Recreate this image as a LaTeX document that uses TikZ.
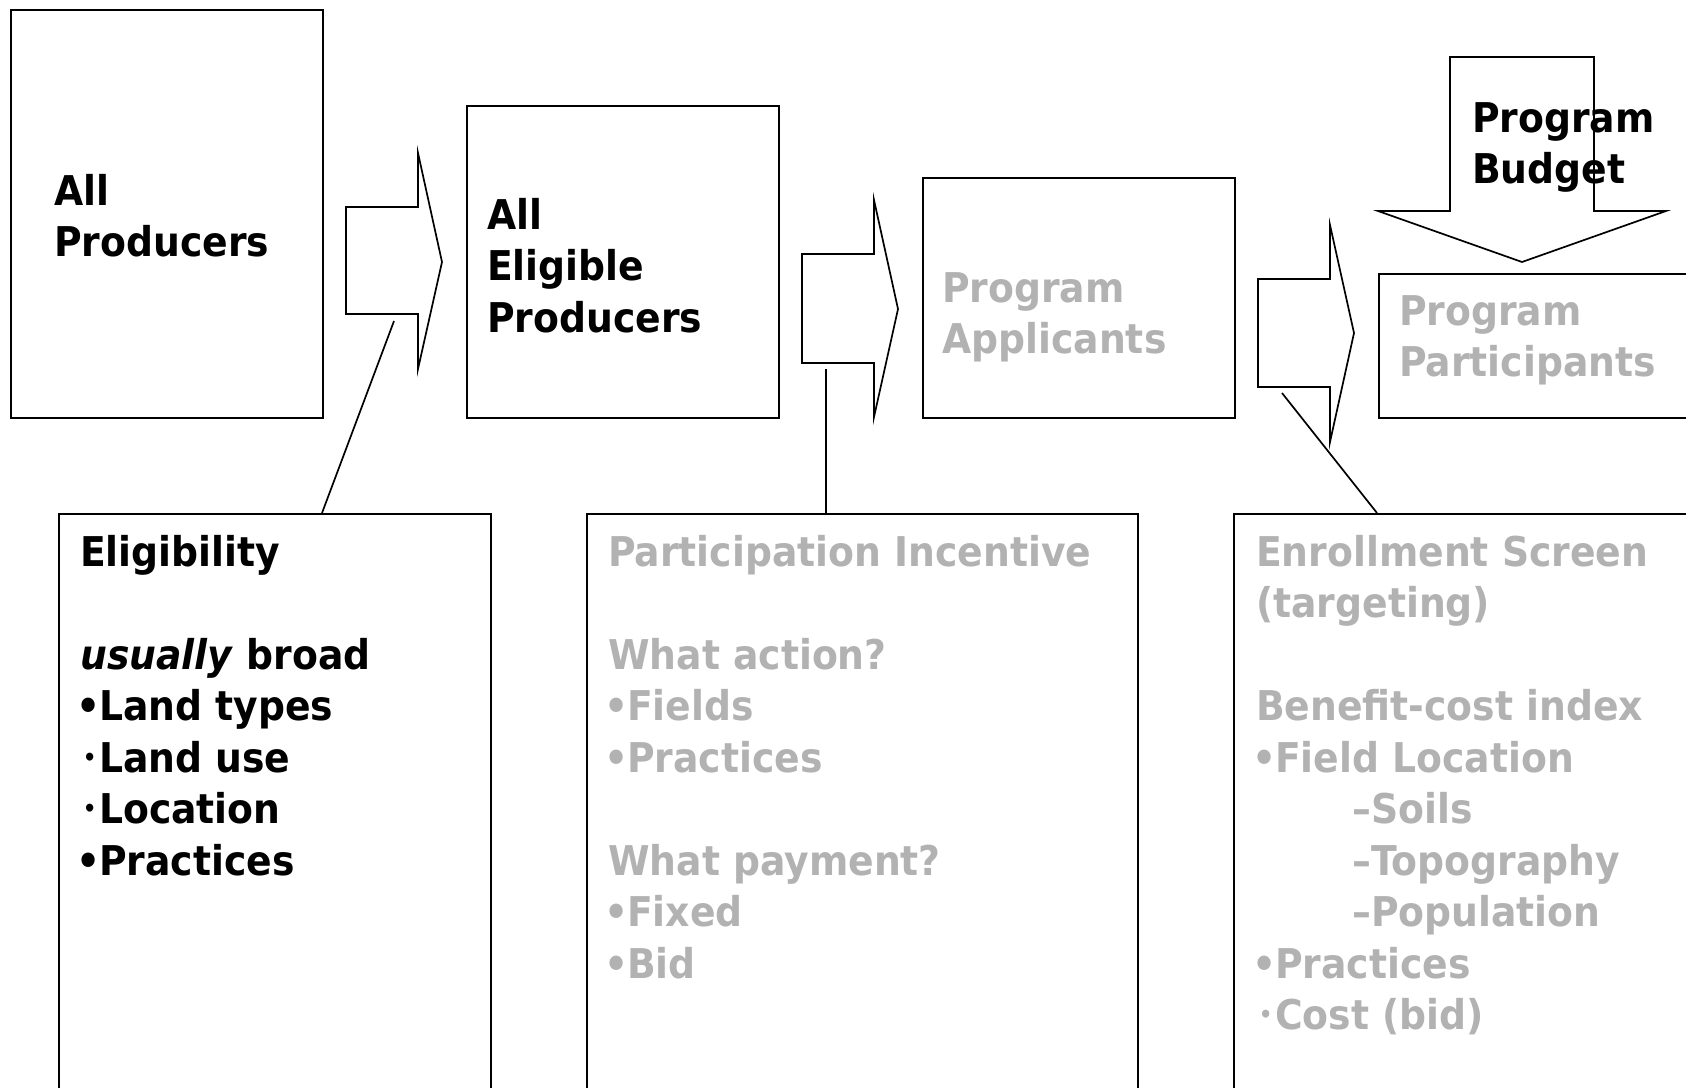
\documentclass[tikz,border=0pt]{standalone}
\usepackage{fontspec}
\usepackage{graphicx}
\setmainfont{DejaVu Sans}[FakeStretch=0.92]
\definecolor{faded}{RGB}{178,178,178}
% text block whose base anchor is the baseline of its first line
\newcommand\txtlines[1]{\parbox[t]{700pt}{\raggedright #1}}
% list bullets: a normal one and a small one of the same width
\newcommand\bul{\leavevmode\hbox to 0.46em{\kern-0.08em•\hss}}
\newcommand\sbul{\leavevmode\hbox to 0.46em{\hss\raisebox{0.16em}{\scalebox{0.55}{•}}\hss}}
\tikzset{
  frame/.style={draw=black, line width=2pt, inner sep=0pt, anchor=north west},
  blockarrow/.style={draw=black, line width=1.7pt, line join=miter},
  callout/.style={draw=black, line width=1.7pt},
  boxtext/.style={anchor=base west, inner sep=0pt, font=\fontsize{41}{51.5}\selectfont\bfseries},
}
\begin{document}
\begin{tikzpicture}[x=1pt,y=-1pt]
\useasboundingbox (0,0) rectangle (1686,1087);
\fill[white] (0,0) rectangle (1686,1087);
\clip (0,0) rectangle (1686,1087);

% stage boxes
\node[frame, minimum width=312pt, minimum height=408pt] (prod) at (10,9) {};
\node[frame, minimum width=312pt, minimum height=312pt] (elprod) at (466,105) {};
\node[frame, minimum width=312pt, minimum height=240pt] (appl) at (922,177) {};
\node[frame, minimum width=360pt, minimum height=144pt] (part) at (1378,273) {};

% stage labels
\node[boxtext] (prodtxt) at (54,205) {\txtlines{All\\Producers}};
\node[boxtext] (elprodtxt) at (487,229) {\txtlines{All\\Eligible\\Producers}};
\node[boxtext, text=faded] (appltxt) at (942,302) {\txtlines{Program\\Applicants}};
\node[boxtext, text=faded] (parttxt) at (1399,325) {\txtlines{Program\\Participants}};

% block arrows between stages
\draw[blockarrow] (346,207) -- (418,207) -- (418,153) -- (442,262) -- (418,369) -- (418,314) -- (346,314) -- cycle;
\draw[blockarrow] (802,254) -- (874,254) -- (874,200) -- (898,309) -- (874,417) -- (874,363) -- (802,363) -- cycle;
\draw[blockarrow] (1258,279) -- (1330,279) -- (1330,225) -- (1354,333) -- (1330,442) -- (1330,387) -- (1258,387) -- cycle;

% budget arrow pointing down onto the participants
\draw[blockarrow] (1450,57) -- (1594,57) -- (1594,211) -- (1666,211) -- (1522,262) -- (1378,211) -- (1450,211) -- cycle;
\node[boxtext] (budget) at (1472,132) {\txtlines{Program\\Budget}};

% detail boxes
\node[frame, minimum width=432pt, minimum height=620pt] (elig) at (58,513) {};
\node[frame, minimum width=551pt, minimum height=620pt] (incent) at (586,513) {};
\node[frame, minimum width=500pt, minimum height=620pt] (screen) at (1233,513) {};

\node[boxtext] (eligtxt) at (80,566) {\txtlines{Eligibility\\\mbox{}\\\textit{usually} broad\\\bul Land types\\\sbul Land use\\\sbul Location\\\bul Practices}};
\node[boxtext, text=faded] (incenttxt) at (608,566) {\txtlines{Participation Incentive\\\mbox{}\\What action?\\\bul Fields\\\bul Practices\\\mbox{}\\What payment?\\\bul Fixed\\\bul Bid}};
\node[boxtext, text=faded] (screentxt) at (1256,566) {\txtlines{Enrollment Screen\\(targeting)\\\mbox{}\\Benefit-cost index\\\bul Field Location\\\hspace*{96pt}–Soils\\\hspace*{96pt}–Topography\\\hspace*{96pt}–Population\\\bul Practices\\\sbul Cost (bid)}};

% callout lines from the arrows to their detail boxes
\coordinate (k1) at (394,321);
\coordinate (k2) at (826,369);
\coordinate (k3) at (1282,393);
\draw[callout] (k1) -- ([xshift=264pt]elig.north west);
\draw[callout] (k2) -- ([xshift=240pt]incent.north west);
\draw[callout] (k3) -- ([xshift=144pt]screen.north west);
\end{tikzpicture}
\end{document}
